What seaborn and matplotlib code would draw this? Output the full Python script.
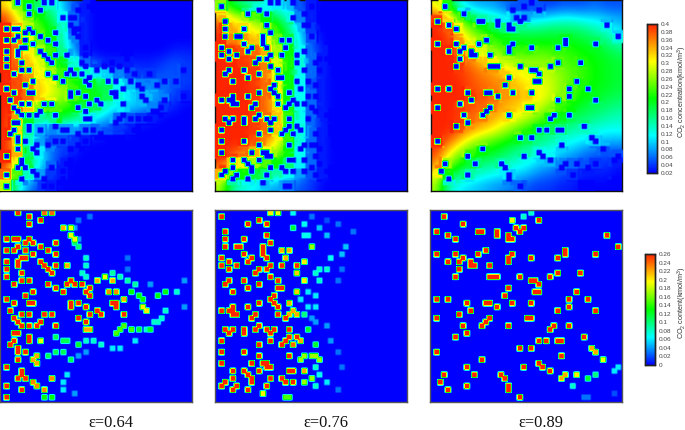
import numpy as np
import pandas as pd
import seaborn as sns
import matplotlib
matplotlib.use("Agg")
import matplotlib.pyplot as plt
from matplotlib.colors import LinearSegmentedColormap

labels = ["ε=0.64", "ε=0.76", "ε=0.89"]
conc_ticks = [0.02, 0.04, 0.06, 0.08, 0.1, 0.12, 0.14, 0.16, 0.18, 0.2, 0.22, 0.24, 0.26, 0.28, 0.3, 0.32, 0.34, 0.36, 0.38, 0.4]
content_ticks = [0, 0.02, 0.04, 0.06, 0.08, 0.1, 0.12, 0.14, 0.16, 0.18, 0.2, 0.22, 0.24, 0.26]

# concentration, 17 x 17 coarse cells
conc_064 = [
    [.32, .26, .21, .17, .14, .10, .05, .03, .02, .02, .02, .02, .02, .02, .02, .02, .02],
    [.39, .30, .26, .21, .18, .12, .06, .03, .02, .02, .02, .02, .02, .02, .02, .02, .02],
    [.40, .34, .28, .24, .20, .14, .06, .03, .02, .02, .02, .02, .02, .02, .02, .02, .02],
    [.40, .36, .30, .25, .21, .15, .07, .03, .02, .02, .02, .02, .02, .02, .02, .02, .02],
    [.40, .37, .31, .27, .23, .16, .08, .03, .02, .02, .02, .02, .02, .02, .02, .03, .03],
    [.40, .37, .33, .29, .25, .20, .13, .06, .04, .03, .03, .03, .03, .03, .04, .05, .04],
    [.40, .38, .35, .30, .27, .23, .19, .14, .11, .10, .07, .05, .04, .04, .05, .05, .04],
    [.40, .38, .36, .32, .30, .26, .23, .20, .20, .18, .12, .09, .07, .07, .06, .05, .04],
    [.40, .39, .37, .33, .30, .27, .24, .22, .20, .18, .13, .11, .09, .09, .07, .04, .03],
    [.40, .39, .33, .26, .24, .24, .21, .19, .18, .13, .11, .10, .09, .07, .04, .03, .02],
    [.40, .35, .20, .15, .16, .20, .17, .14, .11, .09, .06, .05, .04, .03, .02, .02, .02],
    [.40, .32, .16, .09, .07, .08, .08, .07, .06, .05, .04, .03, .02, .02, .02, .02, .02],
    [.40, .33, .14, .08, .05, .05, .04, .03, .02, .02, .02, .02, .02, .02, .02, .02, .02],
    [.40, .34, .17, .11, .07, .04, .03, .02, .02, .02, .02, .02, .02, .02, .02, .02, .02],
    [.40, .30, .19, .12, .06, .03, .02, .02, .02, .02, .02, .02, .02, .02, .02, .02, .02],
    [.37, .24, .14, .08, .04, .03, .02, .02, .02, .02, .02, .02, .02, .02, .02, .02, .02],
    [.28, .13, .07, .04, .03, .02, .02, .02, .02, .02, .02, .02, .02, .02, .02, .02, .02],
]
conc_076 = [
    [.26, .19, .16, .13, .12, .11, .09, .05, .03, .02, .02, .02, .02, .02, .02, .02, .02],
    [.34, .30, .27, .24, .21, .18, .13, .07, .03, .02, .02, .02, .02, .02, .02, .02, .02],
    [.39, .34, .32, .30, .27, .23, .17, .09, .04, .02, .02, .02, .02, .02, .02, .02, .02],
    [.40, .36, .35, .33, .30, .25, .19, .11, .05, .02, .02, .02, .02, .02, .02, .02, .02],
    [.40, .39, .38, .37, .34, .27, .21, .12, .06, .03, .02, .02, .02, .02, .02, .02, .02],
    [.40, .40, .39, .38, .36, .29, .22, .13, .06, .03, .02, .02, .02, .02, .02, .02, .02],
    [.40, .40, .40, .39, .36, .30, .21, .12, .06, .03, .02, .02, .02, .02, .02, .02, .02],
    [.40, .40, .40, .39, .37, .30, .21, .12, .05, .03, .02, .02, .02, .02, .02, .02, .02],
    [.40, .40, .40, .39, .37, .31, .21, .12, .06, .03, .02, .02, .02, .02, .02, .02, .02],
    [.40, .40, .40, .39, .37, .32, .22, .12, .06, .03, .02, .02, .02, .02, .02, .02, .02],
    [.40, .40, .40, .39, .37, .33, .23, .12, .06, .03, .02, .02, .02, .02, .02, .02, .02],
    [.40, .40, .40, .39, .37, .33, .23, .13, .06, .03, .02, .02, .02, .02, .02, .02, .02],
    [.40, .40, .40, .38, .36, .31, .23, .13, .06, .03, .02, .02, .02, .02, .02, .02, .02],
    [.40, .39, .37, .34, .30, .27, .21, .12, .06, .03, .02, .02, .02, .02, .02, .02, .02],
    [.39, .33, .30, .27, .24, .21, .17, .11, .06, .03, .02, .02, .02, .02, .02, .02, .02],
    [.34, .26, .21, .19, .17, .15, .12, .08, .05, .03, .02, .02, .02, .02, .02, .02, .02],
    [.27, .15, .12, .11, .09, .08, .07, .05, .04, .02, .02, .02, .02, .02, .02, .02, .02],
]
conc_089 = [
    [.30, .22, .12, .09, .08, .08, .06, .05, .05, .05, .04, .05, .05, .05, .06, .05, .05],
    [.39, .32, .24, .18, .15, .13, .11, .09, .08, .09, .10, .11, .11, .10, .10, .09, .08],
    [.40, .38, .30, .25, .21, .19, .17, .16, .16, .16, .17, .17, .17, .16, .14, .13, .10],
    [.40, .39, .35, .29, .26, .23, .21, .20, .20, .20, .20, .20, .20, .19, .18, .16, .13],
    [.40, .40, .38, .33, .29, .26, .24, .23, .23, .24, .23, .23, .22, .21, .20, .19, .17],
    [.40, .40, .39, .36, .33, .31, .28, .27, .26, .26, .26, .24, .23, .22, .21, .20, .19],
    [.40, .40, .39, .38, .36, .35, .33, .31, .30, .29, .28, .26, .24, .23, .21, .20, .19],
    [.40, .40, .40, .38, .37, .36, .35, .33, .31, .30, .29, .26, .24, .22, .21, .20, .19],
    [.40, .40, .40, .39, .38, .37, .35, .34, .33, .31, .29, .26, .23, .21, .20, .19, .18],
    [.40, .40, .39, .38, .37, .36, .34, .33, .31, .29, .26, .23, .21, .19, .18, .17, .16],
    [.40, .40, .39, .37, .36, .34, .32, .30, .28, .25, .22, .20, .18, .17, .16, .15, .14],
    [.40, .40, .38, .35, .33, .31, .28, .25, .22, .20, .18, .17, .15, .14, .13, .12, .12],
    [.40, .38, .33, .29, .26, .24, .22, .20, .18, .16, .15, .13, .12, .11, .10, .09, .09],
    [.39, .32, .27, .23, .21, .20, .18, .16, .15, .13, .12, .10, .09, .07, .06, .05, .05],
    [.36, .27, .22, .19, .17, .16, .15, .13, .12, .10, .09, .07, .06, .05, .04, .04, .03],
    [.31, .21, .17, .15, .13, .12, .11, .10, .09, .07, .06, .05, .04, .03, .03, .03, .02],
    [.27, .14, .11, .10, .09, .08, .07, .06, .05, .04, .04, .03, .03, .02, .02, .02, .02],
]

# saturated particles as (col, row) on a 51 x 51 lattice
full_064 = [(4,0),(7,1),(7,3),(10,2),(1,7),(3,7),(4,7),(7,7),(6,8),(4,9),(3,10),(8,8),(10,9),(14,8),(12,10),(14,11),
    (1,10),(6,10),(8,11),(4,13),(5,12),(6,12),(4,14),(1,13),(1,15),(10,13),(11,14),(14,14),(12,15),(13,16),(1,17),
    (5,16),(5,18),(7,18),(3,19),(12,19),(14,20),(16,21),(17,19),(18,18),(19,19),(21,19),(22,21),(23,20),(23,22),
    (1,23),(3,24),(6,22),(8,21),(7,24),(8,24),(18,24),(18,25),(20,24),(22,25),(29,24),(30,24),(30,25),(32,27),
    (23,27),(25,26),(26,27),(2,26),(3,28),(4,29),(5,27),(7,27),(11,27),(13,27),(10,29),(9,30),(20,28),(22,29),
    (5,30),(7,30),(14,30),(3,32),(4,32),(3,34),(2,35),(4,36),(4,37),(4,39),(7,33),(7,34),(6,37),(1,41),(5,42),
    (5,43),(6,44),(4,44),(1,46),(5,47),(1,49)]
part_064 = [(11,0,.24),(13,0,.24),(17,14,.22),(25,18,.22),(27,17,.19),(29,18,.22),(28,21,.23),(30,21,.23),(32,23,.22),
    (22,31,.22),(23,31,.22),(10,34,.19),(8,39,.22),(9,38,.22),(9,40,.22),(8,45,.23),(9,46,.23),(11,47,.23),(13,44,.23),
    (16,4,.22),(18,4,.19),(18,6,.19),(19,7,.19),(19,8,.1),(20,9,.1),(22,12,.08),(22,14,.08),(21,16,.08),(22,17,.08),
    (20,2,.03),(23,1,.03),(19,4,.04),(20,7,.04),(29,16,.09),(31,17,.09),(33,18,.09),(35,19,.09),(34,21,.13),(36,22,.13),
    (37,23,.13),(41,22,.13),(43,21,.13),(46,21,.08),(37,25,.2),(38,26,.2),(43,26,.08),(42,28,.08),(41,29,.08),(40,29,.08),
    (38,31,.08),(36,31,.12),(39,31,.12),(30,32,.15),(31,31,.15),(32,30,.15),(34,31,.15),(35,34,.06),(14,33,.11),(16,34,.11),
    (17,34,.11),(14,37,.11),(16,37,.11),(18,39,.11),(12,38,.11),(20,35,.12),(22,34,.08),(24,34,.08),(26,35,.08),(29,36,.06),
    (31,36,.06),(17,43,.06),(16,45,.06),(16,47,.06),(19,48,.04),(11,49,.13),(13,49,.13),(33,12,.03),(33,15,.03),(39,19,.04),
    (48,18,.04),(48,25,.04),(20,38,.04),(22,37,.04)]

full_076 = [(1,1),(11,2),(8,3),(13,3),(2,5),(2,7),(7,7),(13,6),(14,8),(2,9),(5,9),(6,9),(12,9),(12,10),(12,11),(13,12),
    (1,12),(1,14),(3,13),(3,15),(5,14),(7,11),(8,13),(9,12),(10,16),(11,15),(13,15),(14,14),(17,14),(14,17),(21,14),
    (3,18),(2,19),(7,18),(8,20),(11,19),(16,18),(16,20),(17,20),(4,21),(15,22),(14,23),(15,24),(16,25),(11,24),(8,25),
    (1,26),(3,26),(4,25),(4,26),(4,27),(5,27),(10,27),(9,28),(16,27),(18,28),(11,30),(10,31),(4,31),(2,31),(3,32),
    (7,31),(7,32),(13,31),(15,31),(14,32),(14,34),(19,31),(19,33),(21,33),(1,34),(18,34),(17,35),(11,35),(1,37),(7,37),
    (11,38),(19,38),(1,40),(9,40),(13,40),(13,41),(12,40),(14,41),(4,42),(4,44),(7,42),(8,43),(9,44),(11,42),(9,45),
    (14,44),(19,42),(20,42),(2,45),(1,46),(5,46),(4,47),(8,47),(13,46),(17,44),(18,45),(20,45)]
part_076 = [(14,0,.2),(16,0,.19),(20,0,.07),(20,4,.12),(23,3,.07),(23,6,.07),(24,6,.07),(25,9,.17),(17,10,.22),(19,10,.22),
    (18,12,.22),(23,13,.2),(21,16,.21),(23,18,.2),(21,21,.21),(19,24,.22),(19,27,.22),(20,26,.22),(21,27,.22),(23,27,.1),
    (24,31,.12),(20,35,.24),(22,34,.22),(23,42,.22),(12,48,.2),(18,49,.15),(19,49,.15),(22,39,.17),(23,38,.17),(25,38,.17),
    (26,38,.17),(27,39,.17),(26,35,.12),(26,41,.08),(27,43,.07),(23,45,.17),(25,44,.17),(26,46,.08),(29,45,.06),(30,12,.07),
    (33,11,.05),(34,9,.05),(27,4,.05),(29,6,.05),(25,1,.03),(29,2,.02),(32,3,.03),(36,5,.03),(26,16,.08),(27,15,.08),
    (29,15,.08),(27,18,.08),(33,15,.03),(32,18,.03),(24,21,.06),(26,22,.06),(22,23,.06),(24,25,.06),(26,25,.06),(26,29,.04),
    (29,30,.04),(25,28,.04),(30,34,.04),(32,37,.03),(33,41,.03),(32,47,.03)]

full_089 = [(3,1),(8,3),(1,5),(4,6),(6,7),(12,5),(13,5),(17,5),(17,6),(20,6),(20,7),(21,7),(28,2),(22,4),(23,5),(24,4),
    (46,6),(49,9),(1,11),(6,11),(4,13),(7,13),(8,12),(10,13),(10,14),(11,14),(12,11),(14,10),(21,11),(20,12),(20,13),
    (7,15),(6,17),(15,14),(15,17),(16,17),(17,17),(26,12),(33,12),(35,10),(35,11),(43,11),(23,17),(31,17),(33,16),(39,16),
    (26,18),(27,18),(28,19),(27,21),(28,21),(20,20),(19,22),(38,21),(1,23),(4,23),(9,24),(10,26),(14,24),(15,24),(17,25),
    (21,24),(26,24),(36,23),(41,23),(33,26),(36,25),(43,26),(1,28),(7,27),(15,28),(14,29),(13,30),(25,28),(26,28),(20,30),
    (8,30),(9,32),(6,33),(32,30),(31,31),(36,30),(40,33),(28,34),(30,34),(33,34),(34,34),(23,36),(26,36),(1,37),(34,38),
    (13,39),(9,41),(24,41),(28,40),(29,41),(31,42),(3,43),(2,45),(11,43),(18,43),(19,44),(20,46),(20,47),(9,46),(4,47),(23,49)]
part_089 = [(21,2,.2),(24,1,.08),(26,0,.08),(42,36,.22),(43,37,.22),(45,39,.19),(34,44,.22),(35,43,.22),(38,43,.2),
    (41,44,.12),(43,43,.1),(37,46,.08),(48,42,.06),(49,41,.06),(40,49,.03),(41,49,.03),(48,48,.02)]

PX_W, PX_H = 685, 430
sns.set_theme(style="white")
plt.rcParams['font.family'] = ['Liberation Sans', 'DejaVu Sans']
plt.rcParams['mathtext.default'] = 'regular'
flame = LinearSegmentedColormap.from_list("flame", ["#0000ff", "#00ffff", "#00ff00", "#ffff00", "#ff2400"])

fig = plt.figure(figsize=(PX_W / 100, PX_H / 100), dpi=100)


def box(x0, y0, x1, y1):
    return fig.add_axes([x0 / PX_W, 1 - y1 / PX_H, (x1 - x0) / PX_W, (y1 - y0) / PX_H])


def finish(ax, color):
    ax.set_xlim(0, 17)
    ax.set_ylim(17, 0)
    ax.set_aspect("auto")
    ax.set_xlabel("")
    ax.set_ylabel("")
    for s in ax.spines.values():
        s.set_visible(True)
        s.set_color(color)
        s.set_linewidth(1.0)


def style_cbar(cax, ticks, label, label_x, label_y):
    cax.set_yticks(ticks)
    cax.set_yticklabels([f"{t:g}" for t in ticks], fontsize=4.6, color="#444444")
    cax.tick_params(right=False, length=0, pad=3)
    for s in cax.spines.values():
        s.set_visible(True)
        s.set_color("#222222")
        s.set_linewidth(1.0)
    fig.text(label_x / PX_W, 1 - label_y / PX_H, label, rotation=90, ha="center", va="center", fontsize=5.2, color="#333333")


def top_panel(pos, field, full, part, cax):
    ax = box(*pos)
    field = np.array(field)
    sns.heatmap(pd.DataFrame(field), ax=ax, cmap=flame, vmin=0.02, vmax=0.4, cbar=cax is not None, cbar_ax=cax,
                xticklabels=False, yticklabels=False)
    ax.imshow(field, cmap=flame, vmin=0.02, vmax=0.4, extent=(0, 17, 17, 0), aspect="auto", zorder=2,
              interpolation="bicubic", interpolation_stage="data")
    # particles sit on a 102 lattice so the rim goes through the colour scale
    fine = np.kron(field, np.ones((6, 6)))
    alpha = np.zeros(fine.shape)
    cells = list(full) + [p[:2] for p in part]
    for c, r in cells:
        alpha[max(2 * r - 2, 0):2 * r + 5, max(2 * c - 2, 0):2 * c + 5] = 1
    for c, r in cells:
        fine[2 * r:2 * r + 3, 2 * c:2 * c + 3] = 0.02
    ax.imshow(fine, cmap=flame, vmin=0.02, vmax=0.4, alpha=alpha, extent=(0, 17, 17, 0), aspect="auto", zorder=3,
              interpolation="bilinear", interpolation_stage="data")
    finish(ax, "#111111")


def bottom_panel(pos, full, part, cax):
    ax = box(*pos)
    fine = np.zeros((102, 102))
    for c, r, v in [(c, r, 0.26) for c, r in full] + list(part):
        block = fine[2 * r:2 * r + 3, 2 * c:2 * c + 3]
        block[block < v] = v
    sns.heatmap(pd.DataFrame(fine), ax=ax, cmap=flame, vmin=0, vmax=0.26, cbar=cax is not None, cbar_ax=cax,
                xticklabels=False, yticklabels=False)
    ax.imshow(fine, cmap=flame, vmin=0, vmax=0.26, extent=(0, 102, 102, 0), aspect="auto", zorder=2,
              interpolation="bilinear", interpolation_stage="data")
    ax.set_xlim(0, 102)
    ax.set_ylim(102, 0)
    ax.set_aspect("auto")
    for s in ax.spines.values():
        s.set_visible(True)
        s.set_color("#555555")
        s.set_linewidth(1.0)


conc_cax = box(647, 24, 657, 173)
content_cax = box(645, 254, 655, 365)

top_panel((0, 0, 192, 191), conc_064, full_064, part_064, conc_cax)
top_panel((215, 0, 407, 191), conc_076, full_076, part_076, None)
top_panel((431, 0, 622, 191), conc_089, full_089, part_089, None)

bottom_panel((0, 210, 192, 402), full_064, part_064, content_cax)
bottom_panel((215, 210, 407, 402), full_076, part_076, None)
bottom_panel((430, 210, 622, 402), full_089, part_089, None)

style_cbar(conc_cax, conc_ticks, "CO$_2$ concentration(kmol/m$^3$)", 682, 92)
style_cbar(content_cax, content_ticks, "CO$_2$ content(kmol/m$^3$)", 682, 303)

for x, t in zip([111, 326, 541], labels):
    fig.text(x / PX_W, 1 - 423 / PX_H, t, ha="center", va="center", fontsize=11.8, color="#111111",
             family=["Liberation Serif", "DejaVu Serif"])

fig.savefig("out.png", dpi=100, facecolor="white")
